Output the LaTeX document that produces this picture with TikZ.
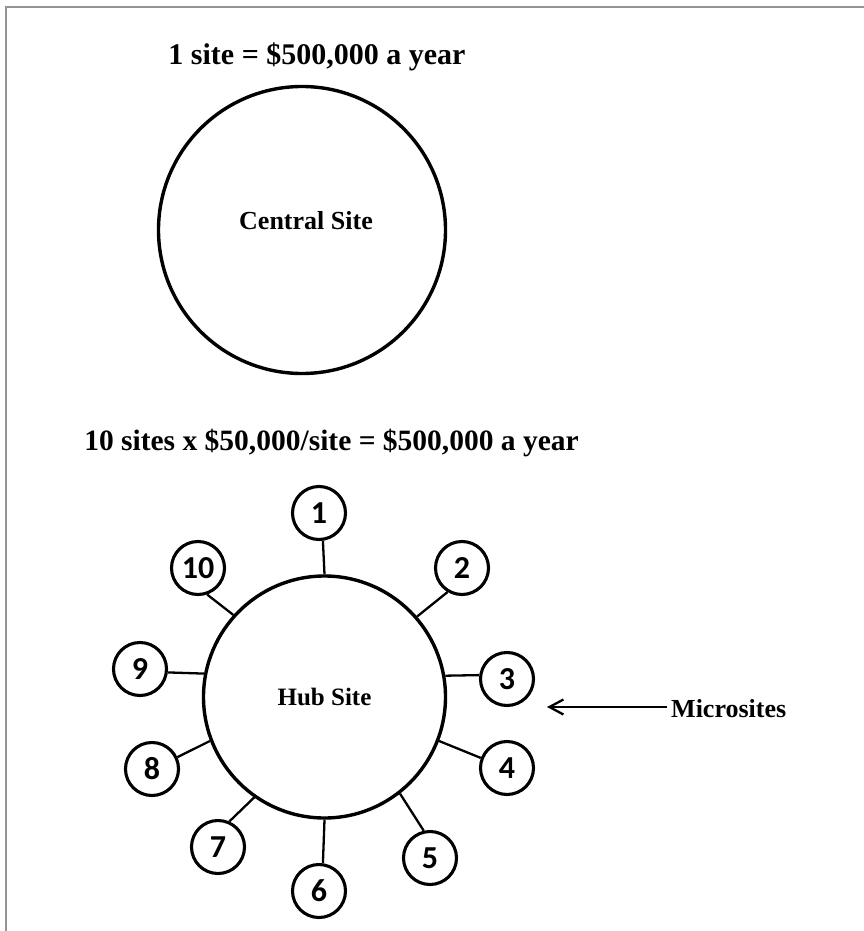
\documentclass[tikz,border=0pt]{standalone}
\usepackage{fontspec}
\setmainfont{Liberation Serif}
\newfontfamily\numfont{Carlito}
\usetikzlibrary{arrows.meta}
\begin{document}
\begin{tikzpicture}[x=1pt,y=-1pt,
  bigcirc/.style={circle,draw,line width=3.4pt,inner sep=0pt},
  micro/.style={circle,draw,line width=3.1pt,minimum size=53pt,inner sep=0pt,font=\numfont\bfseries\fontsize{32}{34}\selectfont},
  conn/.style={line width=2.3pt},
  lbl/.style={inner sep=0pt,anchor=base,font=\bfseries}]
\useasboundingbox (0,0) rectangle (864,931);
\fill[white] (0,0) rectangle (864,931);
% frame
\draw[line width=2.5pt,color=black!42] (6,931) -- (6,7) -- (864,7);
% top part
\node[lbl,font=\bfseries\fontsize{30}{36}\selectfont] (t1) at (317,65) {1 site = \$500,000 a year};
\node[bigcirc,minimum size=287pt] (central) at (302,230) {};
\node[lbl,font=\bfseries\fontsize{26}{30}\selectfont] (ctext) at (306,229) {Central Site};
% bottom part
\node[lbl,font=\bfseries\fontsize{29.5}{34}\selectfont] (t2) at (331.5,450) {10 sites x \$50,000/site = \$500,000 a year};
\node[bigcirc,minimum size=242pt] (hub) at (324.5,697) {};
\node[lbl,font=\bfseries\fontsize{25}{30}\selectfont] (htext) at (324.5,705) {Hub Site};
\node[micro] (n1) at (319,513) {1};
\node[micro] (n2) at (462,568) {2};
\node[micro] (n3) at (507,679) {3};
\node[micro] (n4) at (507,768) {4};
\node[micro] (n5) at (430,858) {5};
\node[micro] (n6) at (319,891) {6};
\node[micro] (n7) at (218,847) {7};
\node[micro] (n8) at (152,769) {8};
\node[micro] (n9) at (140,669) {9};
\node[micro] (n10) at (198,568) {10};
\draw[conn] (n1.-82) -- (hub.90);
\draw[conn] (n2.239.6) -- (hub.41.2);
\draw[conn] (n3.172) -- (hub.10.2);
\draw[conn] (n4.159) -- (hub.-21.9);
\draw[conn] (n5.103) -- (hub.-52.2);
\draw[conn] (n6.82) -- (hub.-90);
\draw[conn] (n7.66) -- (hub.-125);
\draw[conn] (n8.25) -- (hub.201.5);
\draw[conn] (n9.-7.6) -- (hub.169);
\draw[conn] (n10.-71) -- (hub.138.4);
% microsites label and arrow
\node[inner sep=0pt,anchor=base west,font=\bfseries\fontsize{26}{30}\selectfont] (mlabel) at (671,717) {Microsites};
\coordinate (tip) at (547,707);
\draw[conn,-{Straight Barb[length=14pt,width=15pt]}] (mlabel.west |- tip) ++(-4,0) -- (tip);
\end{tikzpicture}
\end{document}
